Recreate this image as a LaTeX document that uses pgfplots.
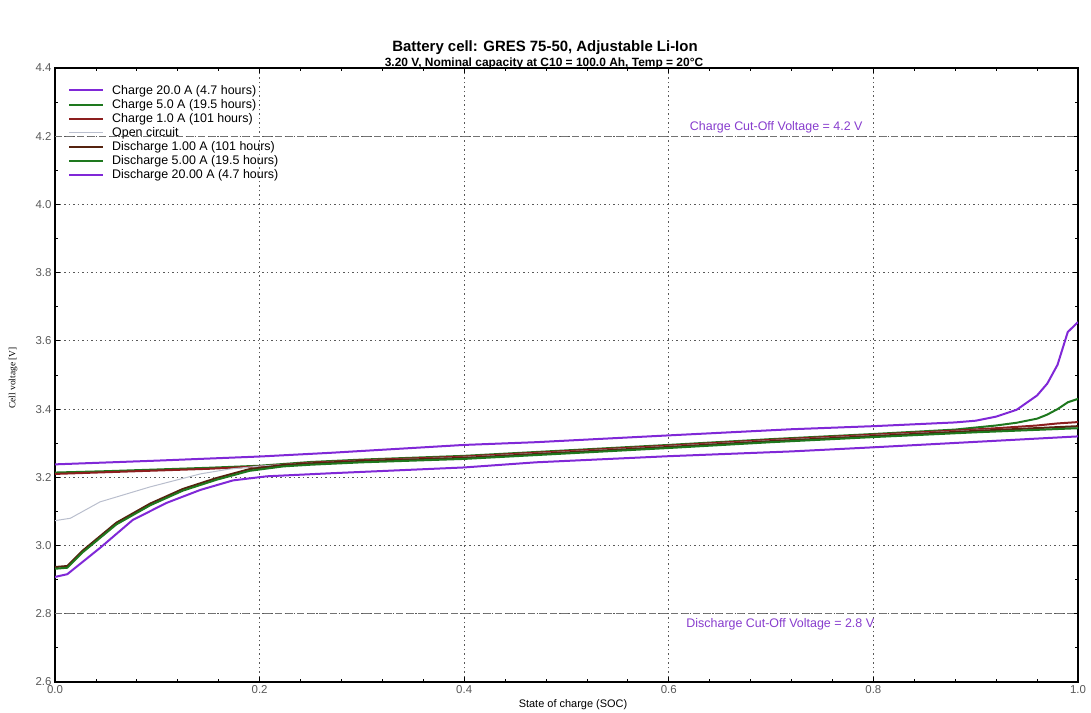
\documentclass[border=0pt]{standalone}
\usepackage{pgfplots}
\pgfplotsset{compat=1.18}
\usepackage{fontspec}
\setmainfont{Liberation Sans}
\newfontfamily\serifnarrow{Liberation Serif}
\definecolor{purp}{RGB}{128,40,215}
\definecolor{grn}{RGB}{30,120,30}
\definecolor{redl}{RGB}{140,30,30}
\definecolor{brn}{RGB}{85,35,15}
\definecolor{ocg}{RGB}{185,190,205}
\definecolor{cutlab}{RGB}{135,60,205}
\begin{document}
\begin{tikzpicture}
\useasboundingbox (0,0) rectangle (1091bp,713bp);
\node[font=\fontsize{15}{17}\selectfont\bfseries] at (545bp,665bp) {Battery cell: GRES 75-50, Adjustable Li-Ion};
\node[font=\fontsize{12}{14}\selectfont\bfseries] at (544bp,650bp) {3.20 V, Nominal capacity at C10 = 100.0 Ah, Temp = 20°C};
\node[font=\serifnarrow\fontsize{9.5}{11}\selectfont, rotate=90] at (13bp,335bp) {Cell voltage [V]};
\node[font=\fontsize{11}{12}\selectfont] at (573bp,8bp) {State of charge (SOC)};
\begin{axis}[
  at={(55bp,31bp)}, anchor=south west,
  width=1023bp, height=614bp, scale only axis,
  xmin=0, xmax=1, ymin=2.6, ymax=4.4,
  xtick={0,0.2,0.4,0.6,0.8,1.0},
  ytick={2.6,2.8,3.0,3.2,3.4,3.6,3.8,4.0,4.2,4.4},
  minor x tick num=4, minor y tick num=1,
  grid=major,
  major grid style={dash pattern=on 1.5bp off 3bp, black!65, line width=0.8bp},
  tick align=inside,
  major tick length=5bp, minor tick length=3bp,
  tick style={black, line width=0.8bp},
  axis line style={line width=1.6bp},
  /pgf/number format/assume math mode=true,
  /pgf/number format/fixed,
  /pgf/number format/fixed zerofill,
  /pgf/number format/precision=1,
  ticklabel style={font=\fontsize{11.5}{12}\selectfont, text=black!65},
  legend cell align=left,
  legend style={at={(0,1)}, anchor=north west, xshift=12bp, yshift=-14bp,
    draw=none, fill=none, font=\fontsize{12.5}{13}\selectfont,
    row sep=-0.4bp, inner sep=1bp},
  legend image code/.code={\draw[#1] (0bp,0bp) -- (34bp,0bp); \path (40bp,0bp);},
]
% cut-off lines
\addplot[forget plot, black!55, line width=0.9bp, dash pattern=on 7bp off 4bp] coordinates {(0,4.2) (1,4.2)};
\addplot[forget plot, black!55, line width=0.9bp, dash pattern=on 7bp off 4bp] coordinates {(0,2.8) (1,2.8)};
\node[text=cutlab, font=\fontsize{12.5}{13}\selectfont, anchor=south] at (axis cs:0.705,4.199) {Charge Cut-Off Voltage = 4.2 V};
\node[text=cutlab, font=\fontsize{12.5}{13}\selectfont, anchor=north] at (axis cs:0.709,2.796) {Discharge Cut-Off Voltage = 2.8 V};

% Charge 20 A
\addplot[purp, line width=2bp] coordinates {
(0,3.238) (0.1,3.249) (0.2,3.261) (0.27,3.272) (0.4,3.295) (0.47,3.303) (0.6,3.323)
(0.72,3.341) (0.8,3.35) (0.88,3.361) (0.9,3.366) (0.92,3.378) (0.94,3.398)
(0.96,3.44) (0.97,3.475) (0.98,3.53) (0.99,3.626) (1.0,3.655)};
\addlegendentry{Charge 20.0 A (4.7 hours)}
% Charge 5 A
\addplot[grn, line width=2bp] coordinates {
(0,3.214) (0.05,3.218) (0.1,3.223) (0.15,3.228) (0.2,3.234) (0.25,3.245) (0.3,3.252)
(0.4,3.263) (0.5,3.279) (0.6,3.295) (0.7,3.312) (0.8,3.327) (0.88,3.34) (0.92,3.352)
(0.94,3.36) (0.96,3.372) (0.97,3.384) (0.98,3.4) (0.99,3.42) (1.0,3.43)};
\addlegendentry{Charge 5.0 A (19.5 hours)}
% Charge 1 A
\addplot[redl, line width=2bp] coordinates {
(0,3.21) (0.05,3.215) (0.1,3.22) (0.15,3.225) (0.2,3.232) (0.25,3.243) (0.3,3.25)
(0.4,3.261) (0.5,3.277) (0.6,3.293) (0.7,3.31) (0.8,3.325) (0.88,3.337) (0.92,3.344)
(0.96,3.352) (0.98,3.358) (1.0,3.362)};
\addlegendentry{Charge 1.0 A (101 hours)}
% Open circuit
\addplot[ocg, line width=1bp] coordinates {
(0,3.073) (0.015,3.08) (0.044,3.128) (0.093,3.172) (0.142,3.21) (0.17,3.224) (0.2,3.233)
(0.25,3.242) (0.3,3.249) (0.4,3.259) (0.5,3.275) (0.6,3.291) (0.7,3.308) (0.8,3.323)
(0.9,3.338) (1.0,3.347)};
\addlegendentry{Open circuit}
% Discharge 1 A
\addplot[brn, line width=2bp] coordinates {
(0,2.937) (0.012,2.94) (0.027,2.985) (0.06,3.067) (0.093,3.123) (0.125,3.166) (0.158,3.198)
(0.19,3.224) (0.223,3.236) (0.25,3.241) (0.3,3.248) (0.4,3.257) (0.5,3.273) (0.6,3.289)
(0.7,3.306) (0.8,3.321) (0.9,3.336) (1.0,3.35)};
\addlegendentry{Discharge 1.00 A (101 hours)}
% Discharge 5 A
\addplot[grn, line width=2bp] coordinates {
(0,2.932) (0.012,2.935) (0.027,2.98) (0.06,3.062) (0.093,3.118) (0.125,3.161) (0.158,3.193)
(0.19,3.219) (0.223,3.232) (0.25,3.237) (0.3,3.244) (0.4,3.254) (0.5,3.27) (0.6,3.286)
(0.7,3.303) (0.8,3.318) (0.9,3.332) (1.0,3.344)};
\addlegendentry{Discharge 5.00 A (19.5 hours)}
% Discharge 20 A
\addplot[purp, line width=2bp] coordinates {
(0,2.908) (0.012,2.916) (0.044,2.993) (0.076,3.075) (0.109,3.125) (0.142,3.163) (0.174,3.191)
(0.207,3.203) (0.27,3.212) (0.4,3.229) (0.47,3.244) (0.6,3.262) (0.72,3.276) (0.8,3.288)
(0.9,3.304) (1.0,3.32)};
\addlegendentry{Discharge 20.00 A (4.7 hours)}
\end{axis}
\end{tikzpicture}
\end{document}
